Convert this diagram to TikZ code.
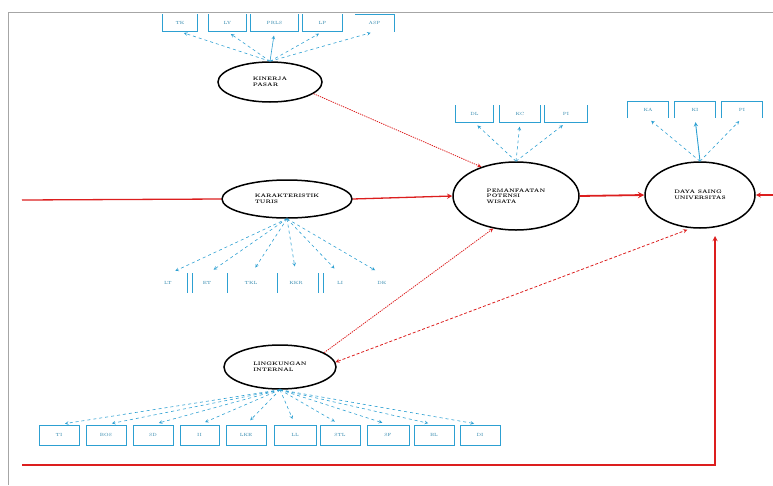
\documentclass[tikz,border=0pt]{standalone}
\usepackage{tikz}
\usetikzlibrary{shapes.geometric}
\definecolor{indblue}{RGB}{45,160,210}
\definecolor{pathred}{RGB}{220,30,30}

\begin{document}
\begin{tikzpicture}[x=1pt,y=-1pt,>=stealth,
  latent/.style={ellipse,draw=black,line width=1.5pt,inner sep=0pt,align=left,
    font=\fontsize{5}{5.5}\selectfont\bfseries},
  ind/.style={inner sep=0pt,minimum height=17pt,text=indblue!80!black,
    font=\fontsize{4.5}{5}\selectfont},
  indline/.style={draw=indblue,line width=0.9pt},
  indarr/.style={->,color=indblue,dashed,line width=0.6pt,shorten >=4pt},
  redarr/.style={->,color=pathred,line width=1.3pt}]
  \useasboundingbox (0,0) rectangle (773,485);
  \draw[gray!70,line width=1pt] (8,485) -- (8,12) -- (773,12);
  % latent variables
  \node[latent,minimum width=104pt,minimum height=40pt] (kinerja) at (270,82) {KINERJA\\PASAR};
  \node[latent,minimum width=130pt,minimum height=38pt] (karakter) at (287,199) {KARAKTERISTIK\\TURIS};
  \node[latent,minimum width=126pt,minimum height=68pt] (ekspek) at (516,196) {PEMANFAATAN\\POTENSI\\WISATA};
  \node[latent,minimum width=110pt,minimum height=66pt] (univ) at (700,195) {DAYA SAING\\UNIVERSITAS};
  \node[latent,minimum width=112pt,minimum height=44pt] (lingk) at (280,367) {LINGKUNGAN\\INTERNAL};
  % indicators of kinerja
  \foreach \x/\w/\t [count=\i] in {180/34/TK,227.5/37/LY,274.5/47/PRLS,322.5/39/LP,374.5/39/ASP}
    \node[ind,minimum width=\w pt] (k\i) at (\x,23) {\t};
  \foreach \i in {1,...,4}
    \draw[indline] (k\i.north west) |- (k\i.south east) -- (k\i.north east);
  \draw[indline] (k5.north west) -- (k5.north east) -- (k5.south east);
  \foreach \i in {1,2,4,5}
    \draw[indarr] (kinerja.north) -- (k\i.south);
  \draw[indarr,solid] (kinerja.north) -- (k3.south);
  % indicators of karakter
  \foreach \x/\t [count=\i] in {168/LT,207/ET,251/TKL,296/KKR,340/LI,382/DK}
    \node[ind] (c\i) at (\x,283) {\t};
  \foreach \x in {187,192,227,277,318,323}
    \draw[indline] (\x,273) -- (\x,293);
  \foreach \i in {1,...,6}
    \draw[indarr,shorten >=8pt] (karakter.south) -- (c\i.north);
  % indicators of ekspek
  \foreach \x/\w/\t [count=\i] in {474.5/37/DL,520/40/KC,566/42/PI}
    \node[ind,minimum width=\w pt] (e\i) at (\x,114) {\t};
  \foreach \i in {1,...,3}{
    \draw[indline] (e\i.north west) |- (e\i.south east) -- (e\i.north east);
    \draw[indarr] (ekspek.north) -- (e\i.south);
  }
  % indicators of univ
  \foreach \x/\t [count=\i] in {648/KA,695/KI,742/PI}
    \node[ind,minimum width=40pt,minimum height=16pt] (u\i) at (\x,110) {\t};
  \foreach \i in {1,...,3}
    \draw[indline] (u\i.south west) |- (u\i.north east) -- (u\i.south east);
  \draw[indarr] (univ.north) -- (u1.south);
  \draw[indarr,solid,line width=0.9pt] (univ.north) -- (u2.south);
  \draw[indarr] (univ.north) -- (u3.south);
  % indicators of lingk
  \foreach \x/\w/\t [count=\i] in {59/40/TI,106/40/BOS,153/40/SD,199.5/39/II,246/40/LKE,
      295/42/LL,340/40/STL,388/42/SF,434/40/BL,480/40/DI}{
    \node[ind,draw=indblue,line width=0.9pt,minimum width=\w pt,minimum height=20pt] (l\i) at (\x,435) {\t};
    \draw[indarr,shorten >=6pt] (lingk.south) -- (l\i.north);
  }
  % structural paths
  \coordinate (lf) at (22,200);
  \coordinate (rt) at (773,195);
  \coordinate (bl) at (22,465);
  \coordinate (bt) at (715,236);
  \draw[pathred,line width=1.3pt] (lf) -- (karakter.west);
  \draw[redarr] (karakter.east) -- (ekspek.west);
  \draw[redarr,line width=1.8pt] (ekspek.east) -- (univ.west);
  \draw[redarr] (rt) -- (univ.east);
  \draw[redarr] (bl) -| (bt);
  \draw[redarr,densely dotted,line width=0.8pt] (kinerja.-15) -- (ekspek.140);
  \draw[redarr,densely dotted,line width=0.8pt] (lingk.18) -- (ekspek.-125);
  \draw[<->,color=pathred,densely dashed,line width=0.8pt,shorten >=4pt] (lingk.5) -- (univ.-105);
\end{tikzpicture}
\end{document}
